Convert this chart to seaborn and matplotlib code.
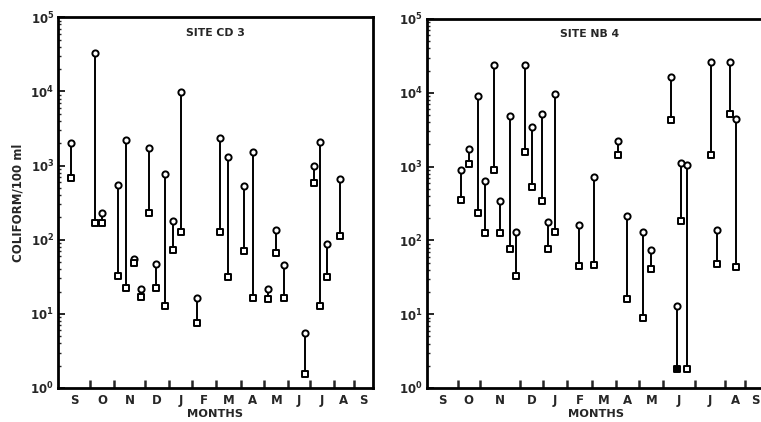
import numpy as np
import pandas as pd
import matplotlib
matplotlib.use("Agg")
import matplotlib.pyplot as plt
import seaborn as sns
from matplotlib.ticker import FixedLocator, FuncFormatter, LogLocator, NullFormatter

# ---------------- data ----------------
months = ["S", "O", "N", "D", "J", "F", "M", "A", "M", "J", "J", "A", "S"]

# Site CD 3 (x in month units from the left edge of the axis)
cd3_x = [0.52, 1.52, 1.82, 2.45, 2.80, 3.13, 3.42, 3.74, 4.05, 4.40, 4.73, 5.06, 5.72,
         6.68, 7.02, 7.69, 8.03, 8.67, 9.00, 9.33, 10.18, 10.57, 10.83, 11.12, 11.64]
cd3_high = [2000, 33000, 226, 540, 2240, 55, 21.7, 1720, 47.7, 760, 180, 9800, 16.4,
            2350, 1300, 534, 1520, 21.7, 134, 44.9, 5.5, 1000, 2070, 88, 663]
cd3_low = [690, 167, 167, 32, 22.6, 48, 16.7, 230, 22.6, 12.7, 72, 129, 7.6,
           129, 31.5, 71.5, 16.4, 16, 65.8, 16.2, 1.56, 590, 12.8, 31.2, 112]
cd3_filled = [False] * 25
cd3_edges = [1.33, 2.31, 3.60, 4.57, 5.54, 6.52, 7.53, 8.51, 9.51, 10.39, 11.39, 12.20]
cd3_xmax = 12.99

# Site NB 4
nb4_x = [1.32, 1.63, 1.96, 2.23, 2.58, 2.82, 3.19, 3.42, 3.78, 4.04, 4.42, 4.64, 4.93,
         5.85, 6.43, 7.33, 7.68, 8.32, 8.60, 9.37, 9.60, 9.78, 9.99, 10.91, 11.14,
         11.65, 11.88]
nb4_high = [895, 1720, 9070, 641, 23800, 344, 4810, 128, 23800, 3490, 5230, 175, 9750,
            164, 718, 2210, 213, 131, 73, 16200, 12.9, 1135, 1055, 25900, 139,
            25900, 4470]
nb4_low = [351, 1100, 236, 124, 903, 127, 76, 32.5, 1567, 526, 340, 76, 128,
           44.8, 46.7, 1457, 16, 8.96, 40.4, 4290, 1.79, 184, 1.79, 1427, 47.7,
           5120, 43.9]
nb4_filled = [False] * 20 + [True] + [False] * 6
nb4_edges = [1.18, 2.04, 3.56, 4.46, 5.40, 6.33, 7.26, 8.17, 9.09, 10.31, 11.46, 12.23]
nb4_xmax = 13.0

# ---------------- style ----------------
sns.set_theme(style="white")
plt.rcParams["font.family"] = ["DejaVu Sans"]
plt.rcParams["font.weight"] = "bold"
plt.rcParams["mathtext.fontset"] = "dejavusans"
plt.rcParams["mathtext.default"] = "bf"

fig = plt.figure(figsize=(7.61, 4.22), dpi=100)
ax1 = fig.add_axes([0.0766, 0.0806, 0.4131, 0.8784])
ax2 = fig.add_axes([0.5611, 0.0806, 0.4442, 0.8744])


def decade_fmt(v, pos):
    n = int(round(np.log10(v)))
    return r"$\mathbf{10^{%d}}$" % n


def draw(ax, x, hi, lo, filled, edges, xmax, title, title_x):
    df = pd.DataFrame({"x": x, "high": hi, "low": lo, "filled": filled})
    ax.set_yscale("log")
    ax.vlines(df["x"], df["low"], df["high"], color="black", lw=1.4, zorder=1)
    sns.scatterplot(data=df, x="x", y="high", marker="o", s=20, color="white",
                    edgecolor="black", linewidth=1.4, ax=ax, zorder=3, legend=False)
    op = df[~df["filled"]]
    fl = df[df["filled"]]
    sns.scatterplot(data=op, x="x", y="low", marker="s", s=20, color="white",
                    edgecolor="black", linewidth=1.4, ax=ax, zorder=3, legend=False)
    if len(fl):
        sns.scatterplot(data=fl, x="x", y="low", marker="s", s=22, color="black",
                        edgecolor="black", linewidth=1.4, ax=ax, zorder=3, legend=False)
    ax.set_ylim(1, 1e5)
    ax.set_xlim(0, xmax)

    bounds = [0] + list(edges) + [xmax]
    mids = [(a + b) / 2 for a, b in zip(bounds[:-1], bounds[1:])]
    ax.xaxis.set_major_locator(FixedLocator(edges))
    ax.xaxis.set_major_formatter(NullFormatter())
    ax.xaxis.set_minor_locator(FixedLocator(mids))
    ax.set_xticklabels(months, minor=True)
    ax.tick_params(axis="x", which="major", direction="in", length=6, width=1.8,
                   bottom=True, top=False)
    ax.tick_params(axis="x", which="minor", length=0, labelsize=8.5, pad=4)

    ax.yaxis.set_major_locator(LogLocator(base=10, numticks=10))
    ax.yaxis.set_major_formatter(FuncFormatter(decade_fmt))
    ax.yaxis.set_minor_locator(LogLocator(base=10, subs=np.arange(2, 10), numticks=20))
    ax.yaxis.set_minor_formatter(NullFormatter())
    ax.tick_params(axis="y", which="major", direction="in", length=5, width=1.4,
                   labelsize=8.5, pad=3, left=True)
    ax.tick_params(axis="y", which="minor", direction="in", length=2.5, width=1.0,
                   left=True)

    for s in ax.spines.values():
        s.set_linewidth(2.0)
        s.set_color("black")
    ax.set_xlabel("MONTHS", fontsize=8.2, fontweight="bold", labelpad=2)
    ax.text(title_x, 0.958, title, transform=ax.transAxes, ha="center", va="center",
            fontsize=7.8, fontweight="bold")
    ax.set_ylabel("")


draw(ax1, cd3_x, cd3_high, cd3_low, cd3_filled, cd3_edges, cd3_xmax, "SITE CD 3", 0.50)
draw(ax2, nb4_x, nb4_high, nb4_low, nb4_filled, nb4_edges, nb4_xmax, "SITE NB 4", 0.48)
ax2.spines["right"].set_visible(False)
ax1.set_ylabel("COLIFORM/100 ml", fontsize=8.5, fontweight="bold", labelpad=4)

fig.savefig("out.png", dpi=100)
